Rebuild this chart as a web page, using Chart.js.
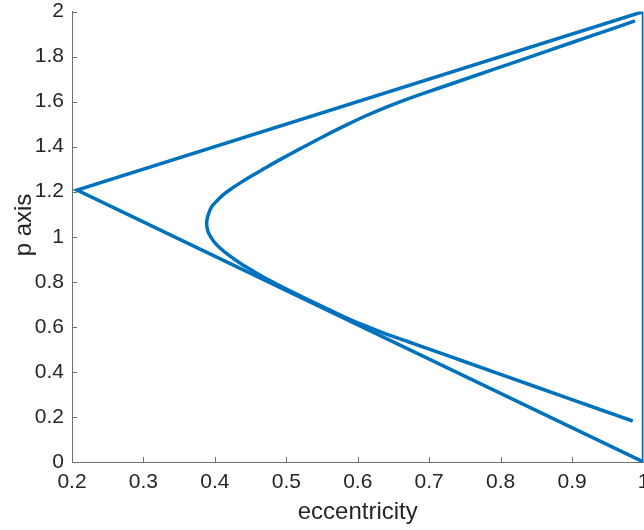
<!DOCTYPE html>
<html>
<head>
<meta charset="utf-8">
<script src="https://cdn.jsdelivr.net/npm/chart.js@4.4.1/dist/chart.umd.min.js"></script>
<style>
  html, body { margin: 0; padding: 0; background: #ffffff; }
  #wrap { width: 644px; height: 530px; }
</style>
</head>
<body>
<div id="wrap"><canvas id="c" width="644" height="530"></canvas></div>
<script>
// ---- data ----
const triangleEcc = [1, 0.207, 1, 1];
const triangleP   = [2, 1.207, 0, 2];

const curveEcc = [0.988, 0.93, 0.874, 0.815, 0.757, 0.71, 0.68, 0.659, 0.635, 0.61, 0.58, 0.55, 0.519, 0.495, 0.473, 0.45, 0.435, 0.4225, 0.4116, 0.403, 0.3955, 0.3915, 0.3888, 0.3888, 0.391, 0.395, 0.4004, 0.408, 0.417, 0.437, 0.455, 0.475, 0.50, 0.55, 0.58, 0.61, 0.64, 0.67, 0.70, 0.75, 0.85, 0.94, 0.985];
const curveP   = [1.958, 1.895, 1.834, 1.770, 1.707, 1.656, 1.623, 1.599, 1.569, 1.535, 1.490, 1.442, 1.390, 1.349, 1.310, 1.267, 1.238, 1.212, 1.186, 1.160, 1.133, 1.105, 1.074, 1.045, 1.018, 0.995, 0.972, 0.948, 0.924, 0.879, 0.845, 0.809, 0.768, 0.691, 0.646, 0.605, 0.568, 0.535, 0.501, 0.445, 0.333, 0.232, 0.182];

const xTickValues = [0.2, 0.3, 0.4, 0.5, 0.6, 0.7, 0.8, 0.9, 1];
const xTickLabels = ['0.2', '0.3', '0.4', '0.5', '0.6', '0.7', '0.8', '0.9', '1'];
const yTickValues = [0, 0.2, 0.4, 0.6, 0.8, 1, 1.2, 1.4, 1.6, 1.8, 2];
const yTickLabels = ['0', '0.2', '0.4', '0.6', '0.8', '1', '1.2', '1.4', '1.6', '1.8', '2'];
const xTitle = 'eccentricity';
const yTitle = 'p axis';

const toPoints = (xs, ys) => xs.map((v, i) => ({ x: v, y: ys[i] }));

const LINE = '#0072BD';
const AXIS = '#6e6e6e';
const TEXT = '#262626';
const FONT = "'Liberation Sans', Arial, Helvetica, sans-serif";

const axisDecor = {
  id: 'axisDecor',
  afterDraw(chart) {
    const { ctx, chartArea } = chart;
    const x = chart.scales.x, y = chart.scales.y;
    ctx.save();
    // inward tick marks
    ctx.strokeStyle = AXIS;
    ctx.lineWidth = 1;
    ctx.beginPath();
    xTickValues.forEach(v => {
      const px = Math.round(x.getPixelForValue(v)) + 0.5;
      ctx.moveTo(px, chartArea.bottom);
      ctx.lineTo(px, chartArea.bottom - 5);
    });
    yTickValues.forEach(v => {
      const py = Math.round(y.getPixelForValue(v)) + 0.5;
      ctx.moveTo(chartArea.left, py);
      ctx.lineTo(chartArea.left + 5, py);
    });
    ctx.stroke();
    // axis titles
    ctx.fillStyle = TEXT;
    ctx.font = '24px ' + FONT;
    ctx.textAlign = 'center';
    ctx.textBaseline = 'alphabetic';
    ctx.fillText(xTitle, (chartArea.left + chartArea.right) / 2, 519);
    ctx.translate(31, 225);
    ctx.rotate(-Math.PI / 2);
    ctx.fillText(yTitle, 0, 0);
    ctx.restore();
  }
};

new Chart(document.getElementById('c'), {
  type: 'scatter',
  data: {
    datasets: [
      {
        data: toPoints(triangleEcc, triangleP),
        showLine: true,
        borderColor: LINE,
        borderWidth: 3.5,
        pointRadius: 0,
        tension: 0,
        borderJoinStyle: 'miter',
        fill: false
      },
      {
        data: toPoints(curveEcc, curveP),
        showLine: true,
        borderColor: LINE,
        borderWidth: 3.5,
        pointRadius: 0,
        tension: 0.3,
        borderJoinStyle: 'round',
        fill: false
      }
    ]
  },
  options: {
    responsive: false,
    animation: false,
    events: [],
    layout: { padding: { top: 11.5, right: 0.5, left: 0, bottom: 0 } },
    plugins: { legend: { display: false }, tooltip: { enabled: false } },
    scales: {
      x: {
        type: 'linear',
        min: 0.2,
        max: 1,
        afterBuildTicks(s) { s.ticks = xTickValues.map(v => ({ value: v })); },
        afterFit(s) { s.height = 68; s.paddingLeft = 0; s.paddingRight = 0; },
        grid: { display: false, drawTicks: false },
        border: { display: true, color: AXIS, width: 1 },
        ticks: {
          autoSkip: false,
          maxRotation: 0,
          padding: 8,
          color: TEXT,
          font: { family: FONT, size: 21 },
          callback: (v, i) => xTickLabels[i]
        },
        title: { display: false }
      },
      y: {
        type: 'linear',
        min: 0,
        max: 2,
        afterBuildTicks(s) { s.ticks = yTickValues.map(v => ({ value: v })); },
        afterFit(s) { s.width = 72; s.paddingTop = 0; s.paddingBottom = 0; },
        grid: { display: false, drawTicks: false },
        border: { display: true, color: AXIS, width: 1 },
        ticks: {
          autoSkip: false,
          padding: 8,
          color: TEXT,
          font: { family: FONT, size: 21 },
          callback: (v, i) => yTickLabels[i]
        },
        title: { display: false }
      }
    }
  },
  plugins: [axisDecor]
});
</script>
</body>
</html>
